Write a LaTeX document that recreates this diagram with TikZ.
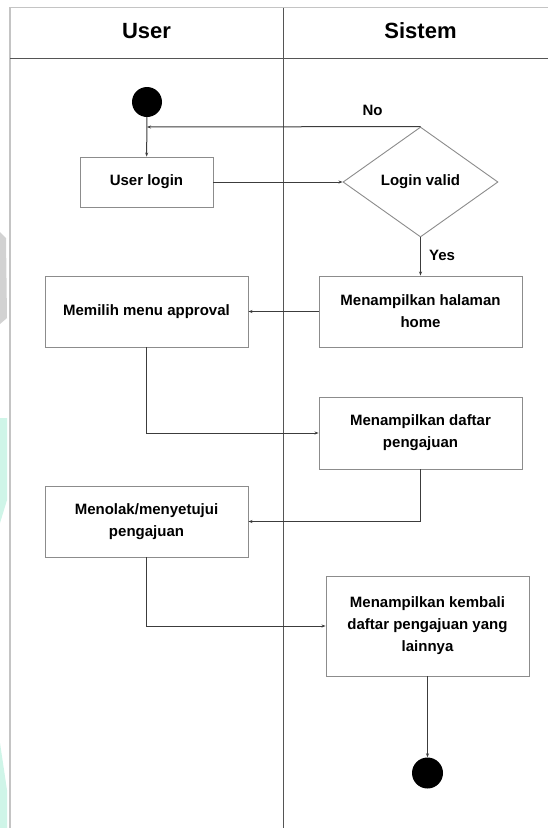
\documentclass[tikz,border=0pt]{standalone}
\usepackage{fontspec}
\setmainfont{Liberation Sans}
\usetikzlibrary{shapes.geometric,arrows.meta}

\definecolor{frameline}{HTML}{C4C4C4}
\definecolor{laneline}{HTML}{555555}
\definecolor{boxline}{HTML}{8C8C8C}
\definecolor{flowline}{HTML}{3C3C3C}
\definecolor{mintmark}{HTML}{CFF5E8}
\definecolor{greymark}{HTML}{D2D2D2}

\tikzset{
  activity/.style={draw=boxline, line width=0.9pt, fill=white, align=center,
    font=\fontsize{15}{22}\selectfont\bfseries, inner sep=2pt},
  decision/.style={draw=boxline, line width=0.9pt, shape=diamond, aspect=1.41,
    inner sep=0pt, minimum width=155pt, minimum height=110pt,
    font=\fontsize{15}{22}\selectfont\bfseries},
  terminal/.style={circle, fill=black, draw=none, inner sep=0pt},
  flow/.style={draw=flowline, line width=1pt, -{Stealth[length=4pt,width=3pt]}},
  lanetitle/.style={font=\fontsize{22}{26}\selectfont\bfseries},
  guard/.style={font=\fontsize{15}{18}\selectfont\bfseries},
}

\begin{document}
\begin{tikzpicture}[x=1pt,y=-1pt]
\useasboundingbox (0,0) rectangle (548,828);
\fill[white] (0,0) rectangle (548,828);

% faint marks along the left margin
\fill[greymark] (0,232) -- (6,238) -- (7,318) -- (0,324) -- cycle;
\fill[mintmark] (0,418) -- (7,418) -- (7,500) -- (0,523) -- cycle;
\fill[mintmark] (0,743) -- (7,790) -- (7,828) -- (0,828) -- cycle;

% swimlane frame
\draw[frameline, line width=1.5pt] (10,828) -- (10,7.5) -- (548,7.5);
\draw[laneline, line width=1.2pt] (10,58.5) -- (548,58.5);
\draw[laneline, line width=1pt] (283.5,7.5) -- (283.5,828);

\node[lanetitle] (laneuser) at (146.5,31) {User};
\node[lanetitle] (lanesys) at (420.5,31) {Sistem};

% activities
\node[terminal, minimum size=30pt] (start) at (147,102) {};
\node[activity, minimum width=133pt, minimum height=50pt] (login) at (146.5,182) {User login};
\node[decision] (valid) at (420.5,182) {Login valid};
\node[activity, minimum width=203pt, minimum height=71pt] (home) at (420.5,311.5) {Menampilkan halaman\\home};
\node[activity, minimum width=203pt, minimum height=71pt] (menu) at (146.5,311.5) {Memilih menu approval};
\node[activity, minimum width=203pt, minimum height=72pt] (list) at (420.5,433) {Menampilkan daftar\\pengajuan};
\node[activity, minimum width=203pt, minimum height=71pt] (decide) at (146.5,521.5) {Menolak/menyetujui\\pengajuan};
\node[activity, minimum width=203pt, minimum height=100pt] (again) at (427.5,626) {Menampilkan kembali\\daftar pengajuan yang\\lainnya};
\node[terminal, minimum size=31pt] (finish) at (427.5,773) {};

\coordinate (loopin) at (147,127);

% flows
\draw[flow] (start) -- (login);
\draw[flow] (login) -- (valid.west);
\draw[flow] (valid.north) -- (loopin);
\draw[flow] (valid.south) -- (home.north);
\draw[flow] (home.west) -- (menu.east);
\draw[flow] (menu.south) |- (list.west);
\draw[flow] (list.south) |- (decide.east);
\draw[flow] (decide.south) |- (again.west);
\draw[flow] (again.south) -- (finish.north);

% guards
\node[guard] (guardno) at (372.5,110) {No};
\node[guard] (guardyes) at (442,255) {Yes};
\end{tikzpicture}
\end{document}
